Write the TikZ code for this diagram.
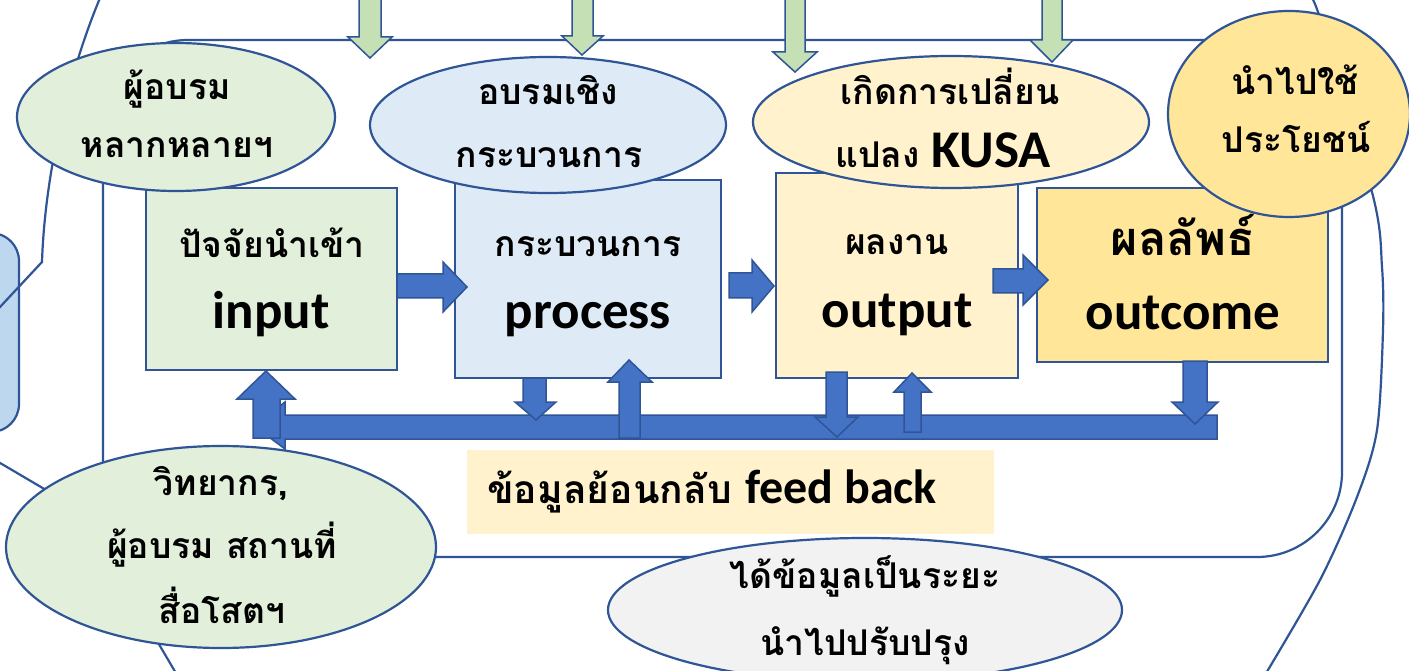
\documentclass[tikz,border=0pt]{standalone}
\usepackage{fontspec}
\setmainfont{Carlito}
\newfontfamily\thai[Script=Thai]{Loma}
\usetikzlibrary{shapes.geometric}
\definecolor{bdr}{HTML}{2F5597}
\definecolor{lgreen}{HTML}{E2EFDA}
\definecolor{lblue}{HTML}{DEEBF7}
\definecolor{lyel}{HTML}{FFF2CC}
\definecolor{gold}{HTML}{FFE699}
\definecolor{lgray}{HTML}{F2F2F2}
\definecolor{garw}{HTML}{C5E0B4}
\definecolor{barw}{HTML}{4472C4}
\definecolor{sideblue}{HTML}{BDD7EE}
\newcommand{\thS}{\thai\bfseries\fontsize{35.5}{42}\selectfont}
\newcommand{\thL}{\thai\bfseries\fontsize{47}{54}\selectfont}
\newcommand{\thF}{\thai\bfseries\fontsize{39}{46}\selectfont}
\newcommand{\enB}{\fontsize{53}{60}\selectfont\bfseries}
\newcommand{\enF}{\fontsize{48}{56}\selectfont\bfseries}
\tikzset{
  ln/.style={draw=bdr, line width=2.2pt},
  boxn/.style={rectangle, draw=bdr, line width=2pt, inner sep=0pt},
  elln/.style={ellipse, draw=bdr, line width=2.2pt, inner sep=0pt},
  garrow/.style={fill=garw, draw=bdr, line width=1.5pt, line join=miter},
  barrow/.style={fill=barw, draw=bdr, line width=1.5pt, line join=miter},
  txt/.style={anchor=base, inner sep=0pt, text=black}
}
\begin{document}
\begin{tikzpicture}[x=1pt,y=-1pt]
\useasboundingbox (0,0) rectangle (1409,671);
\clip (0,0) rectangle (1409,671);
\fill[white] (0,0) rectangle (1409,671);
% partial side box
\draw[ln, fill=sideblue, rounded corners=28pt] (-60,233) rectangle (19,432);
% background curves
\draw[ln] (100,-2) .. controls (70,70) and (45,170) .. (42,262) -- (0,307) -- (-10,318);
\draw[ln] plot[smooth] coordinates {(1303,-8) (1318,12) (1373,196) (1382,267) (1383,330) (1377,430) (1357,497) (1320,580) (1262,680)};
\draw[ln] (-5,460) -- (80,510) -- (180,680);
% frame
\draw[ln, rounded corners=85pt] (103,40) rectangle (1342,557);
% boxes
\node[boxn, fill=lgreen, minimum width=251pt, minimum height=182pt] (inb) at (271.5,279) {};
\node[boxn, fill=lblue, minimum width=266pt, minimum height=198pt] (prb) at (588,279) {};
\node[boxn, fill=lyel, minimum width=242pt, minimum height=205pt] (oub) at (897,275.5) {};
\node[boxn, fill=gold, minimum width=291pt, minimum height=174pt] (ocb) at (1182.5,275) {};
% ellipses
\node[elln, fill=lgreen, minimum width=318pt, minimum height=148pt] (e1) at (176,117) {};
\node[elln, fill=lblue, minimum width=356pt, minimum height=136pt] (e2) at (548,125) {};
\node[elln, fill=lyel, minimum width=396pt, minimum height=132pt] (e3) at (951,122) {};
\node[elln, fill=gold, minimum width=242pt, minimum height=206pt] (e4) at (1289,114) {};
% green arrows
\draw[garrow] (359,-5)--(381,-5)--(381,37)--(392,37)--(370,58)--(348,37)--(359,37)--cycle;
\draw[garrow] (572,-5)--(593,-5)--(593,36)--(603,36)--(582,55)--(562,36)--(572,36)--cycle;
\draw[garrow] (785,-5)--(805,-5)--(805,52)--(817,52)--(795,72)--(773,52)--(785,52)--cycle;
\draw[garrow] (1042,-5)--(1062,-5)--(1062,40)--(1073,40)--(1052,62)--(1030,40)--(1042,40)--cycle;
% blue right arrows
\draw[barrow] (397,274)--(443,274)--(443,262)--(467,287)--(443,312)--(443,298)--(397,298)--cycle;
\draw[barrow] (729,273)--(752,273)--(752,260)--(774,286)--(752,312)--(752,298)--(729,298)--cycle;
\draw[barrow] (993,269)--(1023,269)--(1023,255)--(1048,280)--(1023,305)--(1023,293)--(993,293)--cycle;
% feedback bar (left-pointing arrow) and up arrow to input
\draw[barrow] (1217,415)--(285,415)--(285,402)--(254,426)--(285,449)--(285,439)--(1217,439)--cycle;
\draw[barrow] (253,438)--(253,399)--(237,399)--(266,371)--(295,399)--(280,399)--(280,438)--cycle;
\draw[barrow] (523,378)--(546,378)--(546,402)--(556,402)--(536,420)--(515,402)--(523,402)--cycle;
\draw[barrow] (619,438)--(619,382)--(608,382)--(629,360)--(652,382)--(640,382)--(640,438)--cycle;
\draw[barrow] (826,372)--(847,372)--(847,417)--(858,417)--(837,437)--(815,417)--(826,417)--cycle;
\draw[barrow] (904,432)--(904,392)--(894,392)--(912,373)--(931,392)--(921,392)--(921,432)--cycle;
\draw[barrow] (1183,361)--(1207,361)--(1207,402)--(1218,402)--(1195,424)--(1172,402)--(1183,402)--cycle;
% feedback label box
\node[rectangle, fill=lyel, inner sep=0pt, minimum width=527pt, minimum height=84pt] (fbb) at (730.5,492) {};
% lower ellipses
\node[elln, fill=lgreen, minimum width=430pt, minimum height=202pt] (e5) at (221,547) {};
\node[elln, fill=lgray, minimum width=514pt, minimum height=144pt] (e6) at (865,610) {};
% texts
\node[txt, font=\thS] (t1a) at (177,100) {ผู้อบรม};
\node[txt, font=\thS] (t1b) at (177,158) {หลากหลายฯ};
\node[txt, font=\thS] (t2a) at (548,105) {อบรมเชิง};
\node[txt, font=\thS] (t2b) at (549,168) {กระบวนการ};
\node[txt, font=\thS] (t3a) at (950,105) {เกิดการเปลี่ยน};
\node[txt] (t3b) at (943,168) {{\thS แปลง }{\enB KUSA}};
\node[txt, font=\thS] (t4a) at (1295,95) {นำไปใช้};
\node[txt, font=\thS] (t4b) at (1296,153) {ประโยชน์};
\node[txt, font=\thS] (tin) at (272,258) {ปัจจัยนำเข้า};
\node[txt, font=\enB] (tine) at (271,328) {input};
\node[txt, font=\thS] (tpr) at (588,257) {กระบวนการ};
\node[txt, font=\enB] (tpre) at (588,328) {process};
\node[txt, font=\thS] (tou) at (897,255) {ผลงาน};
\node[txt, font=\enB] (toue) at (897,327) {output};
\node[txt, font=\thL] (toc) at (1183,256) {ผลลัพธ์};
\node[txt, font=\enB] (toce) at (1183,330) {outcome};
\node[txt, anchor=base west] (tfb) at (487,503) {{\thF ข้อมูลย้อนกลับ }{\enF feed back}};
\node[txt, font=\thS] (t5a) at (221,495) {วิทยากร,};
\node[txt, font=\thS] (t5b) at (222,558) {ผู้อบรม สถานที่};
\node[txt, font=\thS] (t5c) at (222,623) {สื่อโสตฯ};
\node[txt, font=\thS] (t6a) at (865,588) {ได้ข้อมูลเป็นระยะ};
\node[txt, font=\thS] (t6b) at (865,655) {นำไปปรับปรุง};
\end{tikzpicture}
\end{document}
